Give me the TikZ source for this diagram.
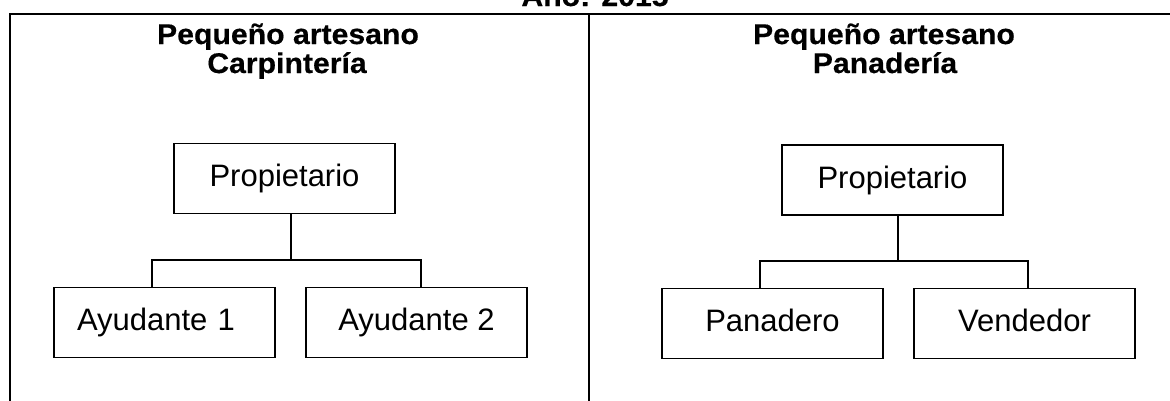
\documentclass[tikz,border=0pt]{standalone}
\usepackage{fontspec}
\usepackage{graphicx}
\setmainfont{Liberation Sans}
\newfontfamily\ttlfont[BoldFeatures={FakeBold=0.4}]{Liberation Sans}
\newcommand{\ttlline}[1]{\scalebox{1.06}[1]{#1}}
\tikzset{
  frameline/.style={line width=2.6pt, line cap=rect},
  orgbox/.style={draw, line width=1.7pt, rectangle, minimum width=221pt, minimum height=70pt,
    inner sep=0pt, text height=22.5pt, text depth=6.5pt,
    font=\fontsize{31}{36}\selectfont},
  conn/.style={line width=1.6pt},
  ttl/.style={anchor=base, inner sep=0pt, font=\ttlfont\bfseries\fontsize{28.5}{33}\selectfont}
}
\begin{document}
\begin{tikzpicture}[x=1pt, y=-1pt]
\useasboundingbox (0,0) rectangle (1170,400);
\clip (0,0) rectangle (1170,400);
% frame
\draw[frameline] (10,400) -- (10,14) -- (1175,14);
\draw[frameline] (589,14) -- (589,405);
% main title (cut off at top)
\node[ttl] (year) at (595,6) {\ttlline{Año: 2015}};
% panel titles
\node[ttl] (tL1) at (288,44) {\ttlline{Pequeño artesano}};
\node[ttl] (tL2) at (287,73) {\ttlline{Carpintería}};
\node[ttl] (tR1) at (884,44) {\ttlline{Pequeño artesano}};
\node[ttl] (tR2) at (885,73) {\ttlline{Panadería}};
% left chart
\node[orgbox] (pL) at (284.5,178.5) {Propietario};
\node[orgbox, text width=175pt, align=left, inner xsep=23pt] (a1) at (164.5,322.5) {Ayudante 1};
\node[orgbox] (a2) at (416.5,322.5) {Ayudante 2};
\coordinate (jL) at (291,260);
\coordinate (bL1) at (152,260);
\coordinate (bL2) at (421,260);
\draw[conn] (pL.south -| jL) -- (jL);
\draw[conn] (a1.north -| bL1) -- (bL1) -- (bL2) -- (a2.north -| bL2);
% right chart
\node[orgbox] (pR) at (892.5,180) {Propietario};
\node[orgbox] (pan) at (772.5,323.5) {Panadero};
\node[orgbox] (ven) at (1024.5,323.5) {Vendedor};
\coordinate (jR) at (898,261);
\coordinate (bR1) at (760,261);
\coordinate (bR2) at (1028,261);
\draw[conn] (pR.south -| jR) -- (jR);
\draw[conn] (pan.north -| bR1) -- (bR1) -- (bR2) -- (ven.north -| bR2);
\end{tikzpicture}
\end{document}
